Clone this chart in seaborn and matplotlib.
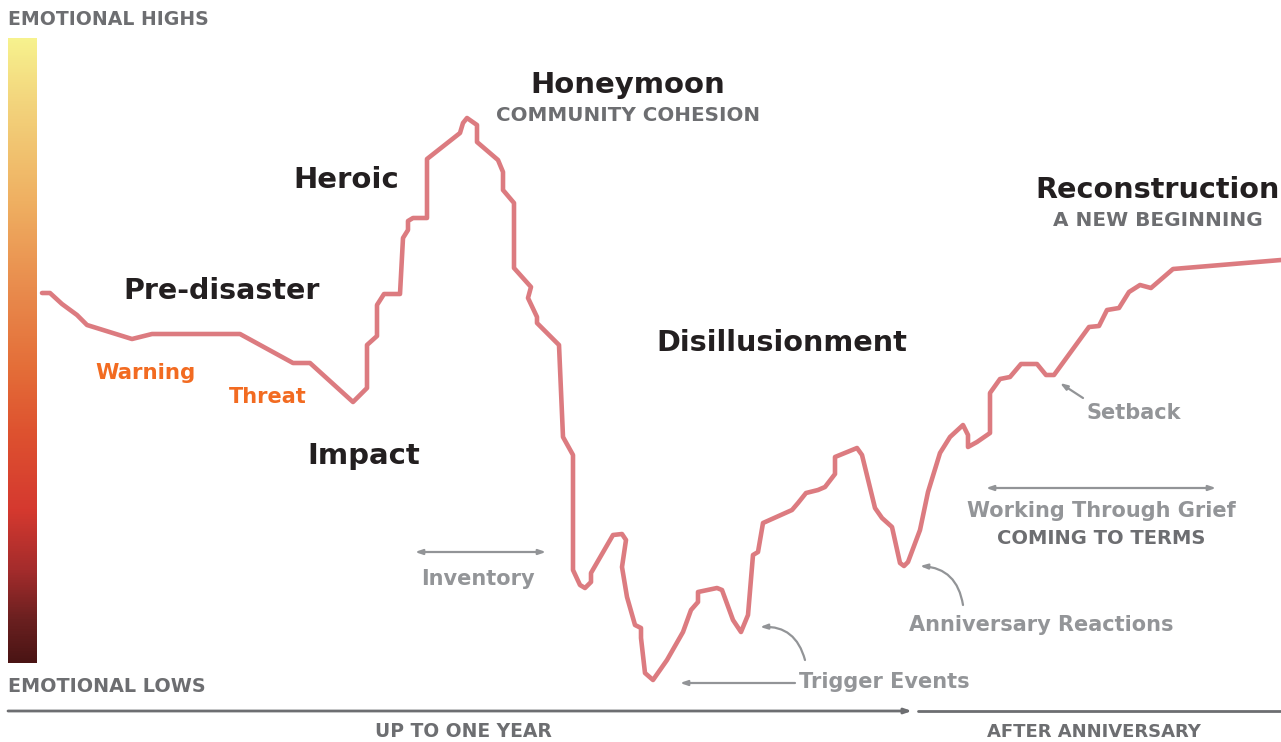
import numpy as np
import matplotlib.pyplot as plt
import seaborn as sns
from matplotlib.colors import LinearSegmentedColormap

# canvas units: x = time along the curve, y = emotional level (0 = bottom of picture)
timeline = [42, 50, 62, 77, 87, 132, 152, 240, 293, 310, 353, 367, 367, 377, 377, 384, 400,
            403, 408, 408, 413, 427, 427, 460, 463, 467, 477, 477, 498, 503, 503, 514, 514,
            531, 528, 537, 537, 559, 563, 573, 573, 580, 585, 591, 591, 613, 622, 626, 622,
            627, 635, 641, 641, 645, 653, 667, 683, 691, 698, 698, 717, 722, 733, 741, 748,
            753, 758, 763, 792, 798, 806, 818, 825, 835, 835, 857, 862, 875, 882, 892, 900,
            904, 908, 920, 928, 940, 950, 963, 968, 968, 977, 990, 990, 1000, 1010, 1021,
            1037, 1046, 1054, 1089, 1099, 1107, 1119, 1129, 1140, 1151, 1173, 1281]
mood = [449, 449, 438, 427, 417, 403, 408, 408, 379, 379, 340, 354, 397, 406, 437, 448, 448,
        504, 512, 521, 524, 524, 583, 609, 619, 624, 617, 600, 582, 570, 552, 539, 474,
        455, 444, 425, 419, 397, 305, 287, 172, 157, 154, 160, 169, 207, 208, 202, 175,
        145, 117, 114, 104, 69, 62, 82, 110, 132, 140, 150, 154, 152, 122, 110, 127,
        187, 190, 219, 232, 239, 249, 252, 255, 268, 285, 294, 287, 234, 224, 215, 179,
        176, 180, 212, 250, 289, 305, 317, 307, 295, 300, 309, 349, 363, 365, 378,
        378, 367, 367, 415, 416, 432, 434, 450, 457, 454, 473, 482]

# colour scale on the left, from lows (0) to highs (1)
bar_stops = [0.0, 0.069, 0.149, 0.245, 0.373, 0.469, 0.581, 0.741, 0.901, 1.0]
bar_colors = ["#4a1414", "#6b2020", "#a52c2c", "#d5392f", "#de5330", "#e46d38",
              "#e8874a", "#efb062", "#f3d57d", "#f7f28e"]

LINE = "#dc7b80"
BLACK = "#231f20"
DARK = "#6d6e71"
LIGHT = "#939598"
ORANGE = "#f26b21"
ARROW = "#929497"

sns.set_theme(style="white")
plt.rcParams["font.family"] = ["DejaVu Sans"]

fig = plt.figure(figsize=(12.81, 7.42), dpi=100)
ax = fig.add_axes([0, 0, 1, 1])

cmap = LinearSegmentedColormap.from_list("emotion", list(zip(bar_stops, bar_colors)))
ax.imshow(np.linspace(0, 1, 512).reshape(-1, 1), cmap=cmap, origin="lower",
          extent=[8, 37, 79, 704], aspect="auto")

sns.lineplot(x=timeline, y=mood, sort=False, estimator=None, color=LINE,
             linewidth=3.3, solid_joinstyle="round", solid_capstyle="round", ax=ax)

ax.set_xlim(0, 1281)
ax.set_ylim(0, 742)
ax.axis("off")


def label(x, y, s, color, size, ha="center"):
    ax.text(x, 742 - y, s, color=color, fontsize=size, fontweight="bold",
            ha=ha, va="baseline")


# stage titles
label(628, 93, "Honeymoon", BLACK, 21)
label(628, 121, "COMMUNITY COHESION", DARK, 14.3)
label(346, 188, "Heroic", BLACK, 21)
label(222, 299, "Pre-disaster", BLACK, 20.5)
label(364, 464, "Impact", BLACK, 21)
label(782, 351, "Disillusionment", BLACK, 20.7)
label(1158, 198, "Reconstruction", BLACK, 20.6)
label(1158, 226, "A NEW BEGINNING", DARK, 14.4)
label(145, 379, "Warning", ORANGE, 15.3)
label(268, 403, "Threat", ORANGE, 15)

# notes
label(478, 585, "Inventory", LIGHT, 15)
label(884, 688, "Trigger Events", LIGHT, 15)
label(1041, 631, "Anniversary Reactions", LIGHT, 15)
label(1134, 419, "Setback", LIGHT, 15)
label(1101, 517, "Working Through Grief", LIGHT, 15)
label(1101, 544, "COMING TO TERMS", DARK, 14)

# scale and time labels
label(8, 25, "EMOTIONAL HIGHS", DARK, 13.6, ha="left")
label(8, 692, "EMOTIONAL LOWS", DARK, 13.8, ha="left")
label(463, 737, "UP TO ONE YEAR", DARK, 13.5)
label(1094, 737, "AFTER ANNIVERSARY", DARK, 13)


def arrow(x0, y0, x1, y1, style="-|>", rad=0.0, color=ARROW, lw=1.6):
    ax.annotate("", xy=(x1, 742 - y1), xytext=(x0, 742 - y0),
                arrowprops=dict(arrowstyle=style + ",head_length=0.35,head_width=0.12",
                                color=color, lw=lw, shrinkA=0, shrinkB=0,
                                connectionstyle=f"arc3,rad={rad}"))


arrow(546, 552, 415, 552, style="<|-|>")
arrow(1216, 488, 986, 488, style="<|-|>")
arrow(795, 683, 680, 683)
arrow(805, 660, 760, 627, rad=0.4)
arrow(963, 605, 920, 566, rad=0.4)
arrow(1083, 398, 1060, 383)

# time axis
arrow(8, 711, 912, 711, color=DARK, lw=2)
ax.plot([918, 1281], [742 - 711, 742 - 711], color=DARK, lw=2)

fig.savefig("out.png", dpi=100)
